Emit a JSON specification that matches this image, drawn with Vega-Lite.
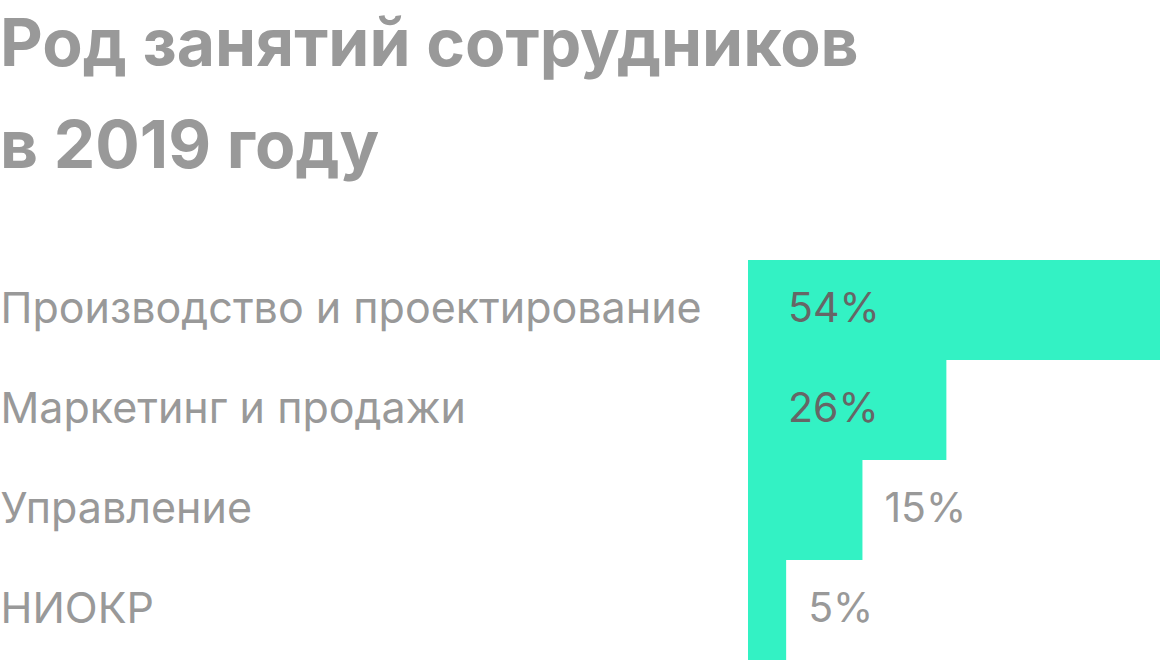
{
  "$schema": "https://vega.github.io/schema/vega-lite/v6.json",
  "width": 412,
  "height": 400,
  "autosize": {"type": "none"},
  "padding": {"left": 748, "top": 260, "right": 0, "bottom": 0},
  "background": "#ffffff",
  "title": {
    "text": ["Род занятий сотрудников", "в 2019 году"],
    "anchor": "start",
    "frame": "bounds",
    "orient": "top",
    "font": "Inter",
    "fontSize": 66,
    "fontWeight": "bold",
    "color": "#999999",
    "lineHeight": 102,
    "offset": 78
  },
  "data": {
    "values": [
      {"category": "Производство и проектирование", "share": 54},
      {"category": "Маркетинг и продажи", "share": 26},
      {"category": "Управление", "share": 15},
      {"category": "НИОКР", "share": 5}
    ]
  },
  "transform": [{"calculate": "datum.share + '%'", "as": "label"}],
  "encoding": {
    "y": {
      "field": "category",
      "type": "nominal",
      "sort": null,
      "scale": {"paddingInner": 0, "paddingOuter": 0},
      "axis": {
        "title": null,
        "domain": false,
        "ticks": false,
        "labelAlign": "left",
        "labelPadding": 748,
        "labelFont": "Inter",
        "labelFontSize": 43,
        "labelColor": "#999999",
        "labelLimit": 0
      }
    }
  },
  "layer": [
    {
      "mark": {"type": "bar", "color": "#33f2c4"},
      "encoding": {
        "x": {
          "field": "share",
          "type": "quantitative",
          "scale": {"domain": [0, 54], "nice": false},
          "axis": null
        }
      }
    },
    {
      "transform": [{"filter": "datum.share > 20"}],
      "mark": {"type": "text", "align": "left", "dx": 40, "font": "Inter", "fontSize": 41, "color": "#666666"},
      "encoding": {
        "x": {"datum": 0, "type": "quantitative"},
        "text": {"field": "label", "type": "nominal"}
      }
    },
    {
      "transform": [{"filter": "datum.share <= 20"}],
      "mark": {"type": "text", "align": "left", "dx": 22, "font": "Inter", "fontSize": 41, "color": "#999999"},
      "encoding": {
        "x": {"field": "share", "type": "quantitative"},
        "text": {"field": "label", "type": "nominal"}
      }
    }
  ],
  "config": {
    "view": {"stroke": null}
  }
}
